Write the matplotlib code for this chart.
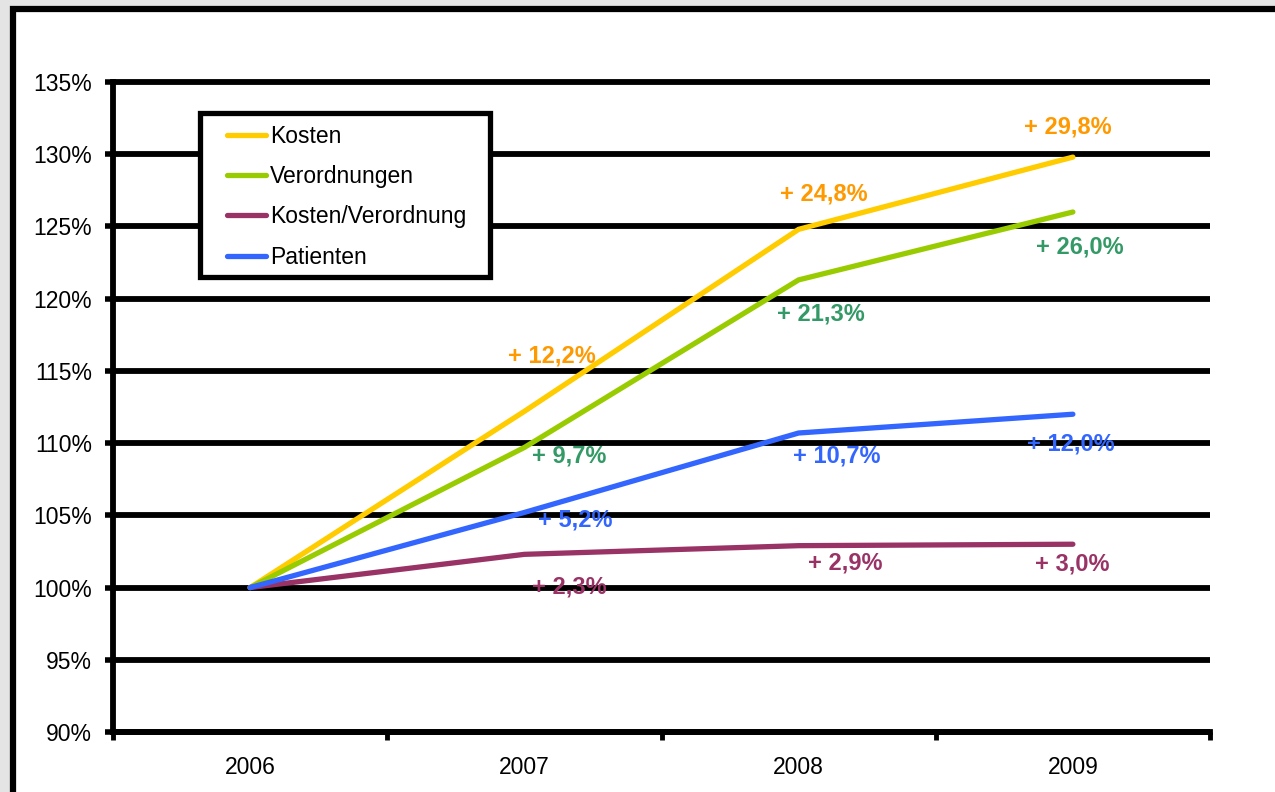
import numpy as np
import matplotlib.pyplot as plt
from matplotlib.patches import Rectangle

plt.rcParams['font.family'] = ['Liberation Sans', 'DejaVu Sans']

years = ["2006", "2007", "2008", "2009"]
kosten = [100.0, 112.2, 124.8, 129.8]
verordnungen = [100.0, 109.7, 121.3, 126.0]
kosten_pro_vo = [100.0, 102.3, 102.9, 103.0]
patienten = [100.0, 105.2, 110.7, 112.0]

kosten_lbl = ["+ 12,2%", "+ 24,8%", "+ 29,8%"]
verordnungen_lbl = ["+ 9,7%", "+ 21,3%", "+ 26,0%"]
kosten_pro_vo_lbl = ["+ 2,3%", "+ 2,9%", "+ 3,0%"]
patienten_lbl = ["+ 5,2%", "+ 10,7%", "+ 12,0%"]

W, H = 1275, 792
fig = plt.figure(figsize=(W / 100, H / 100), dpi=100)
fig.patch.set_facecolor('#e4e4e4')
# white sheet with thick black border (left and top visible)
fig.add_artist(Rectangle((13 / W, -0.1), 1.2, 1.1 - 9 / H,
                         transform=fig.transFigure, facecolor='white',
                         edgecolor='black', linewidth=4.5, zorder=-1))

ax = fig.add_axes([113 / W, 1 - 732 / H, 1097 / W, 650 / H])
ax.set_facecolor('white')
x = np.arange(len(years))

# (values, name, line colour, labels, label colour, label offsets in px (dx, dy down))
series = [
    (kosten, "Kosten", "#ffcc00", kosten_lbl, "#ff9900",
     [(28, -55), (25, -35), (-5, -30)]),
    (verordnungen, "Verordnungen", "#99cc00", verordnungen_lbl, "#339966",
     [(45, 9), (22, 34), (7, 35)]),
    (kosten_pro_vo, "Kosten/Verordnung", "#993366", kosten_pro_vo_lbl, "#993366",
     [(45, 33), (47, 17), (-1, 20)]),
    (patienten, "Patienten", "#3366ff", patienten_lbl, "#3366ff",
     [(51, 8), (38, 23), (-2, 30)]),
]

for vals, name, col, lbls, tcol, offs in series:
    ax.plot(x, vals, color=col, lw=3.8, label=name, zorder=3,
            solid_capstyle='round', solid_joinstyle='round')
for vals, name, col, lbls, tcol, offs in series:
    for i in range(1, 4):
        dx, dy = offs[i - 1]
        ax.annotate(lbls[i - 1], (x[i], vals[i]), xytext=(dx, -dy),
                    textcoords='offset pixels', ha='center', va='center',
                    color=tcol, fontsize=17, fontweight='bold', zorder=4)

ax.set_xlim(-0.5, 3.5)
ax.set_ylim(90, 135)
ax.set_yticks(np.arange(90, 136, 5))
ax.set_yticklabels([f"{v}%" for v in range(90, 136, 5)])
ax.grid(axis='y', color='black', lw=4.2, zorder=1)
for gl in ax.yaxis.get_gridlines():
    gl.set_clip_on(False)
    gl.set_solid_capstyle('butt')
ax.set_axisbelow(True)

ax.set_xticks([-0.5, 0.5, 1.5, 2.5, 3.5])
ax.set_xticklabels([])
ax.set_xticks(x, minor=True)
ax.set_xticklabels(years, minor=True)
ax.tick_params(axis='x', which='major', direction='out', length=6, width=3.5)
ax.tick_params(axis='x', which='minor', length=0, pad=17, labelsize=16.5)
ax.tick_params(axis='y', direction='out', length=6, width=4, pad=9, labelsize=16.5)

for s in ['top', 'right']:
    ax.spines[s].set_visible(False)
ax.spines['left'].set_linewidth(4.2)
ax.spines['bottom'].set_linewidth(4.2)

# legend box drawn by hand, legend entries placed inside it
fig.add_artist(Rectangle((200 / W, 1 - 277 / H), 290 / W, 164 / H,
                         transform=fig.transFigure, facecolor='white',
                         edgecolor='black', linewidth=3.8, zorder=5))
handles, labels = ax.get_legend_handles_labels()
leg = fig.legend(handles, labels, loc='upper left',
                 bbox_to_anchor=(227 / W, 1 - 125 / H),
                 bbox_transform=fig.transFigure, fontsize=16.5, frameon=False,
                 handlelength=1.7, handletextpad=0.17,
                 labelspacing=0.75, borderpad=0, borderaxespad=0)
leg.set_zorder(6)

fig.savefig("out.png", dpi=100, facecolor=fig.get_facecolor())
